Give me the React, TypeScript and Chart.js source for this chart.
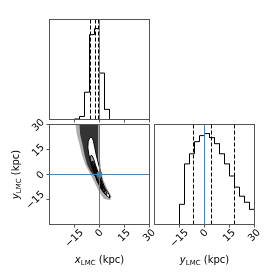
import React, { useEffect, useRef } from "react";
import { Chart, registerables } from "chart.js";

Chart.register(...registerables);

const SIZE = 274;

// ---------- data ----------
const binEdges = [-30, -27, -24, -21, -18, -15, -12, -9, -6, -3, 0, 3, 6, 9, 12, 15, 18, 21, 24, 27, 30];
const xHistCounts = [0, 0, 0, 0, 0, 0.5, 3, 27, 84, 90, 46, 10, 0, 0, 0, 0, 0, 0, 0, 0];
const yHistCounts = [0, 0, 0, 0, 0, 20, 60, 70, 82, 88, 90, 86, 80, 70, 60, 48, 37, 28, 22, 15];
const xQuantiles = [-5.4, -2.4, -0.6];
const yQuantiles = [-6.6, 4.2, 18.0];
const xTruth = 0;
const yTruth = 0;
const axisRange = [-30, 30];
const tickValues = [-15, 0, 15, 30];
const tickLabels = ["\u221215", "0", "15", "30"];
const xTitle = { main: "x", sub: "LMC", unit: " (kpc)" };
const yTitle = { main: "y", sub: "LMC", unit: " (kpc)" };

// 2D panel: sample cloud and density contours (x, y in kpc)
const cloudOuter: [number, number][] = [
  [-14.4, 30], [-13.6, 24], [-12, 18], [-10.6, 12], [-8.6, 6], [-6.4, 2], [-4.4, -2],
  [-2.4, -6], [-0.4, -10], [2.6, -14.6], [6.4, -15.4], [7.2, -13.2], [4.4, -8], [2.2, -3],
  [1, 2], [0.2, 10], [-0.1, 20], [-0.2, 30],
];
const cloudInner: [number, number][] = [
  [-12, 30], [-11.6, 24], [-10.2, 18], [-9, 12], [-7.4, 6], [-5.4, 2], [-3, -1], [-1.5, 0],
  [-0.9, 6], [-0.9, 14], [-0.9, 22], [-0.9, 30],
];
const contourLevel1: [number, number][] = [
  [-5.2, 22.4], [-4.4, 22], [-3.6, 20], [-2.8, 16], [-2, 12], [-1, 8], [0, 4], [0.8, 0],
  [1.6, -4], [3.2, -8], [5.2, -11], [6.2, -13], [6, -14], [4.6, -13], [2.6, -11], [0.6, -8],
  [-1.4, -4], [-2.8, 0], [-4.4, 4], [-5.4, 8], [-6.4, 12], [-7, 16], [-6.8, 20], [-5.8, 22],
];
const contourLevel2: [number, number][] = [
  [-5.6, 11], [-4.6, 11.5], [-3.4, 9], [-2.2, 5], [-0.8, 1.4], [0.6, -2.6], [2, -6.6],
  [3.8, -10], [4.6, -11.8], [3.6, -11.8], [1.8, -9.4], [0, -6.4], [-1.6, -3], [-3, 0.6],
  [-4.2, 4.4], [-5.2, 8],
];
const contourLevel3: [number, number][] = [
  [-4.6, 8], [-3.6, 7.6], [-2.6, 4.6], [-1.4, 1.4], [-0.2, -1.8], [1.2, -5], [2.6, -8.4],
  [3.4, -10], [2.4, -10.4], [0.8, -7.6], [-0.8, -4.2], [-2.2, -0.6], [-3.4, 2.8],
];
const contourLevel4a: [number, number][] = [
  [-3.6, 5.6], [-2.8, 5], [-2, 2.4], [-1.6, 0.8], [-2.6, 1], [-3.4, 3],
];
const contourLevel4b: [number, number][] = [
  [-0.2, -2.6], [0.8, -3.6], [2, -6.6], [2.4, -8.6], [1.4, -8], [0.2, -5.4],
];

// ---------- styles / layout ----------
const TRUTH = "#4682b4";
const FRAME = "#555555";
const FONT = "'DejaVu Sans', sans-serif";
type Rect = { left: number; top: number; right: number; bottom: number };
const panelTL: Rect = { left: 49.5, top: 19.5, right: 149.5, bottom: 119.5 };
const panelBL: Rect = { left: 49.5, top: 124.5, right: 149.5, bottom: 224.5 };
const panelBR: Rect = { left: 154.5, top: 124.5, right: 254.5, bottom: 224.5 };
const X_TITLE_Y = 259;
const Y_TITLE_X = 15;

type Label = { main: string; sub: string; unit: string };

function stepPoints(edges: number[], counts: number[]) {
  const pts: { x: number; y: number }[] = [{ x: edges[0], y: 0 }];
  counts.forEach((c, i) => {
    pts.push({ x: edges[i], y: c });
    pts.push({ x: edges[i + 1], y: c });
  });
  pts.push({ x: edges[edges.length - 1], y: 0 });
  return pts;
}

function vline(x: number, y0: number, y1: number, color: string, dash?: number[]) {
  const d: any = { data: [{ x, y: y0 }, { x, y: y1 }], borderColor: color, borderWidth: 1, fill: false, pointRadius: 0 };
  if (dash) d.borderDash = dash;
  return d;
}
function hline(y: number, x0: number, x1: number, color: string) {
  return { data: [{ x: x0, y }, { x: x1, y }], borderColor: color, borderWidth: 1, fill: false, pointRadius: 0 };
}
function closed(pts: [number, number][]) {
  const d = pts.map(([x, y]) => ({ x, y }));
  d.push({ x: pts[0][0], y: pts[0][1] });
  return d;
}
function polyFill(pts: [number, number][], color: string) {
  return { data: closed(pts), fill: "shape", backgroundColor: color, borderColor: "rgba(0,0,0,0)", borderWidth: 1, pointRadius: 0 };
}
function polyLine(pts: [number, number][]) {
  return { data: closed(pts), fill: false, borderColor: "#000", borderWidth: 1, pointRadius: 0 };
}

const snap = (p: number) => Math.floor(p) + 0.5;

function drawTitle(ctx: CanvasRenderingContext2D, lab: Label, cx: number, cy: number, angle: number) {
  ctx.save();
  ctx.translate(cx, cy);
  ctx.rotate(angle);
  const fMain = `italic 10px ${FONT}`;
  const fSub = `7px ${FONT}`;
  const fUnit = `10px ${FONT}`;
  ctx.font = fMain;
  const w1 = ctx.measureText(lab.main).width;
  ctx.font = fSub;
  const w2 = ctx.measureText(lab.sub).width;
  ctx.font = fUnit;
  const w3 = ctx.measureText(lab.unit).width;
  let x = -(w1 + w2 + w3) / 2;
  ctx.textAlign = "left";
  ctx.textBaseline = "alphabetic";
  ctx.fillStyle = "#000";
  ctx.font = fMain;
  ctx.fillText(lab.main, x, 3.5);
  x += w1;
  ctx.font = fSub;
  ctx.fillText(lab.sub, x, 5.5);
  x += w2;
  ctx.font = fUnit;
  ctx.fillText(lab.unit, x, 3.5);
  ctx.restore();
}

function decorPlugin(cfg: {
  frame: boolean; xTicks: boolean; xTickLabels: boolean; yTicks: boolean; xLab?: Label; yLab?: Label;
  truthX?: number; truthY?: number;
}) {
  return {
    id: "decor",
    afterDraw(chart: any) {
      const ctx: CanvasRenderingContext2D = chart.ctx;
      const a = chart.chartArea;
      const xs = chart.scales.x;
      const ys = chart.scales.y;
      ctx.save();
      if (cfg.truthX !== undefined && cfg.truthY !== undefined) {
        const px = snap(xs.getPixelForValue(cfg.truthX));
        const py = snap(ys.getPixelForValue(cfg.truthY));
        ctx.strokeStyle = TRUTH;
        ctx.lineWidth = 1;
        ctx.setLineDash([]);
        ctx.beginPath();
        ctx.moveTo(px, a.top);
        ctx.lineTo(px, a.bottom);
        ctx.moveTo(a.left, py);
        ctx.lineTo(a.right, py);
        ctx.stroke();
        ctx.fillStyle = TRUTH;
        ctx.fillRect(px - 2.1, py - 2.1, 4.2, 4.2);
      }
      ctx.strokeStyle = FRAME;
      ctx.lineWidth = 1;
      ctx.setLineDash([]);
      if (cfg.frame) ctx.strokeRect(a.left, a.top, a.right - a.left, a.bottom - a.top);
      ctx.beginPath();
      if (cfg.xTicks) {
        tickValues.forEach((v) => {
          const p = snap(xs.getPixelForValue(v));
          ctx.moveTo(p, a.bottom);
          ctx.lineTo(p, a.bottom + 3);
        });
      }
      if (cfg.yTicks) {
        tickValues.forEach((v) => {
          const p = snap(ys.getPixelForValue(v));
          ctx.moveTo(a.left, p);
          ctx.lineTo(a.left - 3, p);
        });
      }
      ctx.stroke();
      ctx.fillStyle = "#000";
      ctx.font = `10px ${FONT}`;
      ctx.textAlign = "center";
      ctx.textBaseline = "middle";
      const capH = 7.3;
      if (cfg.xTickLabels) {
        tickValues.forEach((v, i) => {
          const t = tickLabels[i];
          const w = ctx.measureText(t).width;
          const bb = (w + capH) * Math.SQRT1_2;
          ctx.save();
          ctx.translate(xs.getPixelForValue(v), a.bottom + 4 + bb / 2);
          ctx.rotate(-Math.PI / 4);
          ctx.fillText(t, 0, 0);
          ctx.restore();
        });
      }
      if (cfg.yTicks) {
        tickValues.forEach((v, i) => {
          const t = tickLabels[i];
          const w = ctx.measureText(t).width;
          const bb = (w + capH) * Math.SQRT1_2;
          ctx.save();
          ctx.translate(a.left - 4 - bb / 2, ys.getPixelForValue(v) + 1);
          ctx.rotate(-Math.PI / 4);
          ctx.fillText(t, 0, 0);
          ctx.restore();
        });
      }
      if (cfg.xLab) drawTitle(ctx, cfg.xLab, (a.left + a.right) / 2, X_TITLE_Y, 0);
      if (cfg.yLab) drawTitle(ctx, cfg.yLab, Y_TITLE_X, (a.top + a.bottom) / 2, -Math.PI / 2);
      ctx.restore();
    },
  };
}

function baseOptions(rect: Rect, yMin: number, yMax: number) {
  return {
    responsive: false,
    animation: false,
    devicePixelRatio: 1,
    events: [],
    layout: { padding: { left: rect.left, top: rect.top, right: SIZE - rect.right, bottom: SIZE - rect.bottom } },
    plugins: { legend: { display: false }, tooltip: { enabled: false } },
    elements: { point: { radius: 0 } },
    scales: {
      x: { type: "linear", min: axisRange[0], max: axisRange[1], display: false },
      y: { type: "linear", min: yMin, max: yMax, display: false },
    },
  };
}

function withOrder(ds: any[]) {
  return ds.map((d, i) => ({ ...d, order: -i }));
}

function histConfig(counts: number[], quantiles: number[], truth: number, rect: Rect, xLab?: Label) {
  const yMax = Math.max(...counts) * 1.1;
  const datasets = withOrder([
    { data: stepPoints(binEdges, counts), borderColor: "#000", borderWidth: 1, fill: false, pointRadius: 0 },
    ...quantiles.map((q) => vline(q, 0, yMax, "#000", [4, 2])),
    vline(truth, 0, yMax, TRUTH),
  ]);
  return {
    type: "line",
    data: { datasets },
    options: baseOptions(rect, 0, yMax),
    plugins: [decorPlugin({ frame: true, xTicks: true, xTickLabels: !!xLab, yTicks: false, xLab })],
  };
}

function buildTL() {
  return histConfig(xHistCounts, xQuantiles, xTruth, panelTL);
}
function buildBR() {
  return histConfig(yHistCounts, yQuantiles, yTruth, panelBR, yTitle);
}
function buildBL() {
  const datasets = withOrder([
    polyFill(cloudOuter, "rgba(0,0,0,0.32)"),
    polyFill(cloudInner, "rgba(0,0,0,0.7)"),
    polyFill(contourLevel1, "#ffffff"),
    polyFill(contourLevel2, "rgba(0,0,0,0.38)"),
    polyFill(contourLevel3, "rgba(0,0,0,0.45)"),
    polyFill(contourLevel4a, "rgba(0,0,0,0.7)"),
    polyFill(contourLevel4b, "rgba(0,0,0,0.7)"),
    polyLine(contourLevel1),
    polyLine(contourLevel2),
    polyLine(contourLevel3),
    polyLine(contourLevel4a),
    polyLine(contourLevel4b),
  ]);
  return {
    type: "line",
    data: { datasets },
    options: baseOptions(panelBL, axisRange[0], axisRange[1]),
    plugins: [decorPlugin({ frame: true, xTicks: true, xTickLabels: true, yTicks: true, xLab: xTitle, yLab: yTitle })],
  };
}
// truth lines and marker of the 2D panel, on a canvas above all others
function buildBLTruth() {
  const datasets = withOrder([
    vline(xTruth, axisRange[0], axisRange[1], TRUTH),
    hline(yTruth, axisRange[0], axisRange[1], TRUTH),
    { data: [{ x: xTruth, y: yTruth }], showLine: false, pointStyle: "rect", pointRadius: 3, pointBackgroundColor: TRUTH, pointBorderColor: TRUTH },
  ]);
  return {
    type: "line",
    data: { datasets },
    options: baseOptions(panelBL, axisRange[0], axisRange[1]),
    plugins: [decorPlugin({ frame: false, xTicks: false, xTickLabels: false, yTicks: false, truthX: xTruth, truthY: yTruth })],
  };
}

function PanelChart({ build }: { build: () => any }) {
  const ref = useRef<HTMLCanvasElement>(null);
  useEffect(() => {
    if (!ref.current) return;
    const chart = new Chart(ref.current, build());
    return () => chart.destroy();
  }, [build]);
  return <canvas ref={ref} width={SIZE} height={SIZE} style={{ position: "absolute", left: 0, top: 0, width: SIZE, height: SIZE }} />;
}

export default function App() {
  return (
    <div style={{ position: "fixed", left: 0, top: 0, width: SIZE, height: SIZE, background: "#fff" }}>
      <PanelChart build={buildTL} />
      <PanelChart build={buildBL} />
      <PanelChart build={buildBR} />
      <PanelChart build={buildBLTruth} />
    </div>
  );
}
